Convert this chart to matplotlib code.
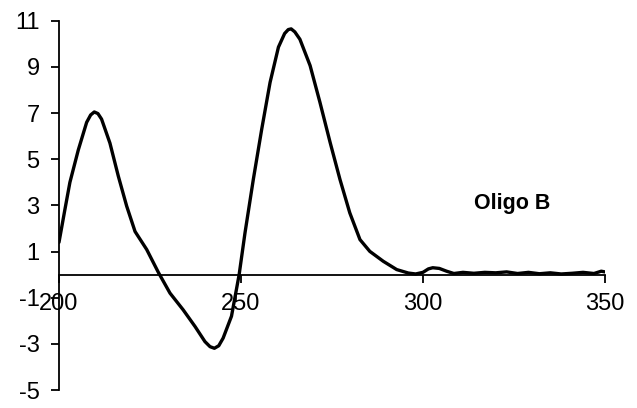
import matplotlib.pyplot as plt
import numpy as np

plt.rcParams['font.family'] = ['Liberation Sans', 'DejaVu Sans']
plt.rcParams['axes.unicode_minus'] = False

# wavelength (nm) and signal
wavelength = [200, 201.6, 203, 205.3, 207.6, 208.7, 209.7, 210.7, 211.7, 214,
              216.3, 218.6, 220.9, 224.1, 227.3, 230.5, 234.1, 237.4, 240.1, 241.5,
              242.7, 243.9, 245.1, 247.4, 249.5, 251.1, 253.4, 255.7, 258, 260.3,
              262, 263, 263.8, 264.8, 266.2, 269, 271.7, 274.5, 277.2, 279.9,
              282.7, 285.4, 289.1, 292.8, 296, 298, 300, 301.5, 302.7, 304.5,
              306.5, 308.5, 311, 314, 317, 320, 323, 326, 329, 332,
              335, 338, 341, 344, 347, 349, 350]
signal = [1.4, 2.8, 4.0, 5.4, 6.6, 6.92, 7.05, 6.98, 6.74, 5.7,
          4.27, 2.97, 1.87, 1.09, 0.1, -0.8, -1.52, -2.25, -2.9, -3.12,
          -3.19, -3.08, -2.75, -1.8, 0.0, 1.8, 4.13, 6.3, 8.33, 9.86,
          10.45, 10.62, 10.65, 10.52, 10.2, 9.06, 7.47, 5.73, 4.13, 2.68,
          1.52, 1.01, 0.58, 0.22, 0.07, 0.03, 0.1, 0.25, 0.3, 0.27,
          0.15, 0.05, 0.1, 0.06, 0.1, 0.08, 0.12, 0.05, 0.1, 0.04,
          0.08, 0.03, 0.06, 0.1, 0.05, 0.15, 0.12]

y_ticks = np.arange(-5, 12, 2)
x_ticks = [200, 250, 300, 350]

fig = plt.figure(figsize=(6.37, 4.08), dpi=100)
ax = fig.add_axes([0.0926, 0.044, 0.857, 0.905])

ax.plot(wavelength, signal, color='black', linewidth=2.4,
        solid_joinstyle='round', solid_capstyle='round')

ax.set_xlim(200, 350)
ax.set_ylim(-5, 11)
ax.spines['top'].set_visible(False)
ax.spines['right'].set_visible(False)
ax.spines['bottom'].set_position(('data', 0))
ax.spines['left'].set_linewidth(1.3)
ax.spines['bottom'].set_linewidth(1.3)

ax.set_xticks(x_ticks)
ax.set_yticks(y_ticks)
ax.tick_params(axis='both', direction='out', length=6, width=1.3, labelsize=17)
ax.tick_params(axis='x', pad=7)
ax.tick_params(axis='y', pad=8)

ax.text(324.5, 3.1, 'Oligo B', fontsize=15.5, fontweight='bold',
        ha='center', va='center')

fig.savefig('out.png', dpi=100)
